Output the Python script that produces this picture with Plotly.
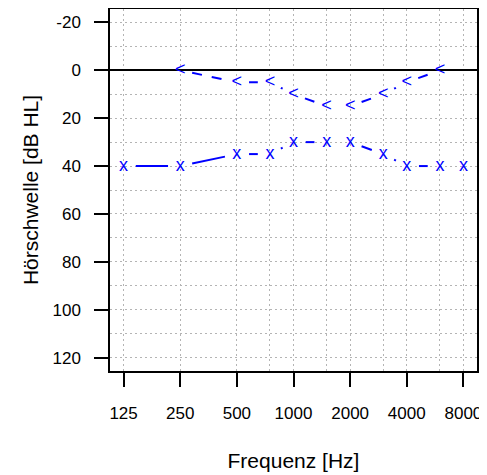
import math
import plotly.graph_objects as go

# ---- data ----
freqs_bone = [250, 500, 750, 1000, 1500, 2000, 3000, 4000, 6000]
db_bone = [0, 5, 5, 10, 15, 15, 10, 5, 0]
freqs_air = [125, 250, 500, 750, 1000, 1500, 2000, 3000, 4000, 6000, 8000]
db_air = [40, 40, 35, 35, 30, 30, 30, 35, 40, 40, 40]
tick_freqs = [125, 250, 500, 1000, 2000, 4000, 8000]
tick_labels = ["125", "250", "500", "1000", "2000", "4000", "8000"]
minor_freqs = [750, 1500, 3000, 6000]
y_ticks = [-20, 0, 20, 40, 60, 80, 100, 120]
y_minor = [-10, 10, 30, 50, 70, 90, 110]

# ---- geometry (page body has an 8px margin, so the figure is offset by 8px) ----
OFF = 8
W, H = 487 - OFF, 475 - OFF
ML, MR, MT, MB = 110 - OFF, 9.5, 8.5 - OFF, 104.3
PW, PH = W - ML - MR, H - MT - MB
lx0, lx1 = math.log10(125), math.log10(8000)
span = lx1 - lx0
XR = [lx0 - 0.04 * span, lx1 + 0.04 * span]
YR = [-20 - 0.04 * 140, 120 + 0.04 * 140]

FONT = "Liberation Sans, Arial, sans-serif"
GRID = "#b4b4b4"
BLUE = "#0000ff"


def to_px(f, d):
    return ((math.log10(f) - XR[0]) / (XR[1] - XR[0]) * PW,
            (d - YR[0]) / (YR[1] - YR[0]) * PH)


def from_px(px, py):
    return (10 ** (XR[0] + px / PW * (XR[1] - XR[0])),
            YR[0] + py / PH * (YR[1] - YR[0]))


def gapped(fs, ds, gap=12.2):
    xs, ys = [], []
    for i in range(len(fs) - 1):
        x0, y0 = to_px(fs[i], ds[i])
        x1, y1 = to_px(fs[i + 1], ds[i + 1])
        L = math.hypot(x1 - x0, y1 - y0)
        if L <= 2 * gap:
            continue
        ux, uy = (x1 - x0) / L, (y1 - y0) / L
        a = from_px(x0 + ux * gap, y0 + uy * gap)
        b = from_px(x1 - ux * gap, y1 - uy * gap)
        xs += [a[0], b[0], None]
        ys += [a[1], b[1], None]
    return xs, ys


fig = go.Figure()

bx, by = gapped(freqs_bone, db_bone)
fig.add_trace(go.Scatter(x=bx, y=by, mode="lines", connectgaps=False,
                         line=dict(color=BLUE, width=2, dash="10px,10px"),
                         hoverinfo="skip", showlegend=False))
ax_, ay_ = gapped(freqs_air, db_air)
fig.add_trace(go.Scatter(x=ax_, y=ay_, mode="lines", connectgaps=False,
                         line=dict(color=BLUE, width=2),
                         hoverinfo="skip", showlegend=False))

fig.add_trace(go.Scatter(x=freqs_bone, y=db_bone, mode="text",
                         text=["<"] * len(freqs_bone), textposition="middle center",
                         textfont=dict(size=18, color=BLUE, family=FONT),
                         showlegend=False))
fig.add_trace(go.Scatter(x=freqs_air, y=db_air, mode="text",
                         text=["x"] * len(freqs_air), textposition="middle center",
                         textfont=dict(size=18, color=BLUE, family=FONT),
                         showlegend=False))

axis_common = dict(
    automargin=False,
    showline=True, mirror=True, linecolor="#000000", linewidth=1.5,
    ticks="outside", ticklen=14, tickwidth=1.5, tickcolor="#000000",
    showgrid=True, gridcolor=GRID, gridwidth=1, griddash="2px,3px",
    tickfont=dict(size=17, color="#000000", family=FONT),
)

fig.update_xaxes(
    type="log", range=XR, tickvals=tick_freqs, ticktext=tick_labels,
    zeroline=False, ticklabelstandoff=12,
    minor=dict(tickvals=minor_freqs, showgrid=True, gridcolor=GRID,
               gridwidth=1, griddash="2px,3px", ticks=""),
    title=dict(text="Frequenz [Hz]", font=dict(size=21, color="#000000", family=FONT),
               standoff=31),
    **axis_common,
)
fig.update_yaxes(
    range=[YR[1], YR[0]], tickvals=y_ticks, ticktext=[str(v) for v in y_ticks],
    zeroline=True, zerolinecolor="#000000", zerolinewidth=2,
    ticklabelstandoff=10,
    minor=dict(tickvals=y_minor, showgrid=True, gridcolor=GRID,
               gridwidth=1, griddash="2px,3px", ticks=""),
    title=dict(text="Hörschwelle [dB HL]", font=dict(size=21, color="#000000", family=FONT),
               standoff=8),
    **axis_common,
)

fig.update_layout(
    width=W, height=H,
    margin=dict(l=ML, r=MR, t=MT, b=MB, pad=0),
    paper_bgcolor="#ffffff", plot_bgcolor="#ffffff",
    showlegend=False,
    font=dict(family=FONT, color="#000000"),
)

fig.write_html("out.html")
